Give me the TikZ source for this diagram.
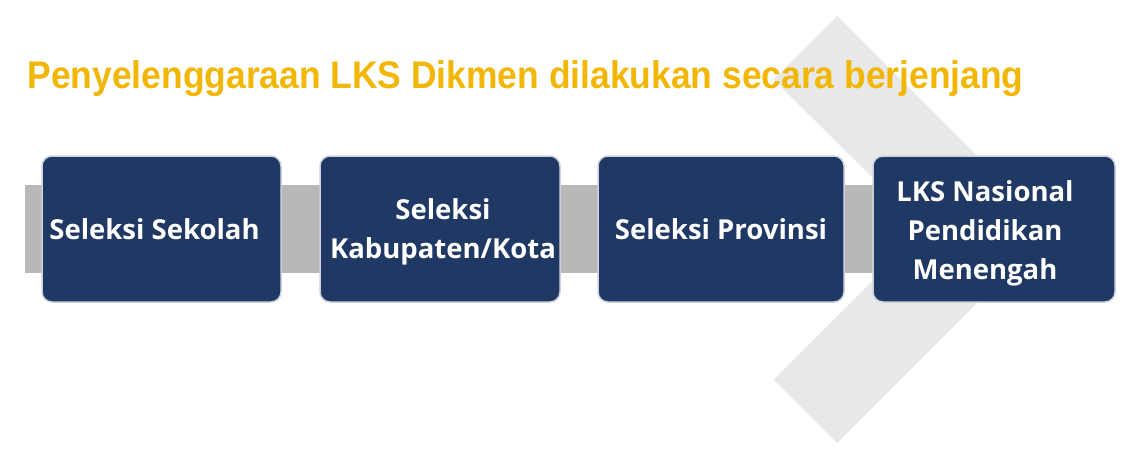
\documentclass[tikz,border=0pt]{standalone}
\usepackage{fontspec}
\setmainfont{Open Sans}
\newfontfamily\titlefont[FakeStretch = 0.92]{Liberation Sans}
\usetikzlibrary{backgrounds}

\definecolor{navy}{RGB}{32,56,100}
\definecolor{gold}{RGB}{242,183,5}
\definecolor{barGray}{RGB}{184,184,184}
\definecolor{arrowGray}{RGB}{232,232,232}
\definecolor{rimGray}{RGB}{205,210,222}

\begin{document}
\begin{tikzpicture}[x = 1pt, y = -1pt, font = \bfseries\fontsize{27.5}{39}\selectfont,
	stage/.style = {fill = navy, draw = rimGray, line width = 1.5pt, rounded corners = 10pt, minimum height = 146pt, inner sep = 0pt}]

	% Definitions
	
	\def\bary{229}		% Middle of the grey bar
	\def\barw{88}		% Thickness of the grey bar
	
	\useasboundingbox (0, 0) rectangle (1142, 458);
	
	% Draw title
	
	\node (title) [anchor = base west, text = gold, font = \titlefont\bfseries\fontsize{38.5}{40}\selectfont] at (24, 88) {Penyelenggaraan LKS Dikmen dilakukan secara berjenjang};
	
	% Draw stages
	
	\foreach \cx/\w/\dx/\dy/\name/\txt in {161.5/239/-7/0/sekolah/{Seleksi Sekolah}, 440/240/3/-3/kabkota/{Seleksi\\Kabupaten/Kota}, 721/246/0/0/provinsi/{Seleksi Provinsi}, 994/242/-9/-4/nasional/{LKS Nasional\\Pendidikan\\Menengah}}
	{
		\node (\name) [stage, minimum width = \w pt, label = {[text = white, align = center, xshift = \dx pt, yshift = \dy pt] center : \txt}] at (\cx, 229) {};
	}
	
	% Draw bar and chevron behind
	
	\begin{scope}[on background layer]
		\fill [white] (0, 0) rectangle (1142, 458);
		\coordinate (barstart) at (25, \bary);
		\draw [barGray, line width = \barw pt] (barstart) -- (barstart -| nasional.center);
		\fill [arrowGray] (837, 16) -- (1050.5, 229.5) -- (837, 443) -- (773.5, 379.5) -- (924.5, 229.5) -- (773.5, 79.5) -- cycle;
	\end{scope}
	
\end{tikzpicture}
\end{document}
